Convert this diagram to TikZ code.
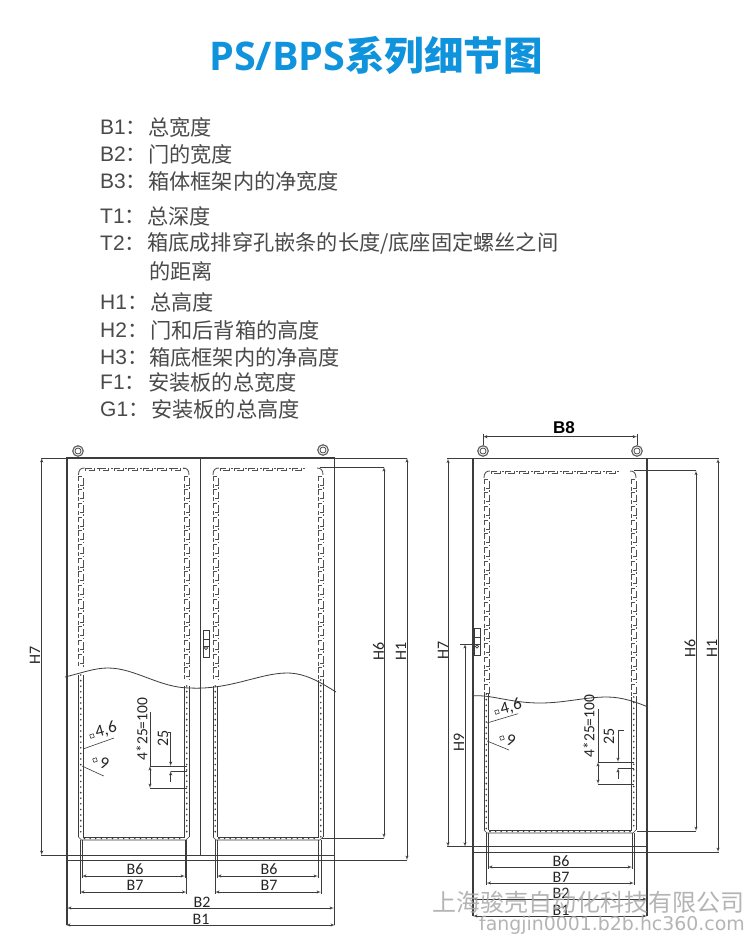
\documentclass[tikz,border=0pt]{standalone}
\usepackage{fontspec}
\usepackage{tikz}
\usetikzlibrary{arrows}
\usetikzlibrary{positioning}
\setmainfont{Carlito}
\newfontfamily\cjk{Noto Sans CJK SC}
\newfontfamily\arial{Liberation Sans}
\newfontfamily\titlefont{Open Sans}
\newfontfamily\wmfont{DejaVu Sans}
\definecolor{titleblue}{HTML}{0F93DC}
\definecolor{listgray}{HTML}{4A4A4A}
\definecolor{linegray}{HTML}{3C3C3C}
\definecolor{wmgray}{HTML}{A8A8A8}
\tikzset{outline/.style = {draw = linegray, line width = 1.3}}
\tikzset{thinline/.style = {draw = linegray, line width = 0.6}}
\tikzset{dimline/.style = {draw = linegray, line width = 0.5, <->, >=latex'}}
\tikzset{arrowline/.style = {draw = linegray, line width = 0.5, ->, >=latex'}}
\tikzset{hookmark/.style = {draw = linegray!90, line width = 0.85}}
\tikzset{dimlabel/.style = {inner sep = 0, text = black!85, font = \fontsize{16}{16}\selectfont}}
\tikzset{keylabel/.style = {anchor = west, inner sep = 0, yshift = -0.7pt, text = listgray, font = \fontsize{21}{21}\arial}}
\tikzset{listlabel/.style = {anchor = west, inner sep = 0, yshift = -0.7pt, text = listgray, font = \fontsize{21.2}{22}\cjk}}
\tikzset{eye/.style = {draw = linegray!80, line width = 1.2, circle, fill = white, minimum size = 10.5, inner sep = 0}}
\tikzset{eyehole/.style = {draw = linegray, line width = 0.7, circle, minimum size = 6, inner sep = 0}}

\newcommand{\hookcol}[3]{%
  \pgfmathsetmacro{\ystart}{#2}
  \pgfmathsetmacro{\ynext}{#2 + 13.7}
  \pgfmathsetmacro{\ystop}{#3}
  \foreach \y in {\ystart, \ynext, ..., \ystop} {
    \draw [hookmark] (#1 - 2.5, \y + 5) -- (#1 - 2.5, \y) -- (#1 + 1, \y);
    \draw [hookmark] (#1 + 2.5, \y + 2) -- (#1 + 2.5, \y + 9) -- (#1 - 1, \y + 9);
    \draw [hookmark] (#1 - 2.5, \y + 7.5) -- (#1 - 2.5, \y + 11.5);
    \draw [hookmark] (#1 + 2.5, \y + 11) -- (#1 + 2.5, \y + 12.5);
  }}
\newcommand{\hookrow}[3]{%
  \pgfmathsetmacro{\xstart}{#2}
  \pgfmathsetmacro{\xnext}{#2 + 14.4}
  \pgfmathsetmacro{\xstop}{#3}
  \foreach \x in {\xstart, \xnext, ..., \xstop} {
    \draw [hookmark] (\x, #1 + 2.5) -- (\x, #1) -- (\x + 6, #1);
    \draw [hookmark] (\x + 3, #1 + 2.5) -- (\x + 9, #1 + 2.5) -- (\x + 9, #1);
    \draw [hookmark] (\x + 11, #1) -- (\x + 13, #1);
  }}
\newcommand{\stripcol}[4]{%
  \draw [thinline] (#1, #3) -- (#1, #4);
  \draw [thinline] (#2, #3) -- (#2, #4);
  \pgfmathsetmacro{\ystart}{#3}
  \pgfmathsetmacro{\ynext}{#3 + 5.6}
  \pgfmathsetmacro{\ystop}{#4}
  \foreach \y in {\ystart, \ynext, ..., \ystop}
    \fill [linegray] ({(#1 + #2) / 2}, \y) circle [radius = 0.9];
  }
\newcommand{\cutpanel}[6]{%
  \hookrow{#3}{#1 + 7}{#2 - 17}
  \hookcol{#1 + 2.5}{#3 + 8}{#5 - 8}
  \hookcol{#2 - 2.5}{#3 + 8}{#6 - 8}
  \draw [hookmark] (#1, #3 + 7) .. controls (#1, #3 + 2) and (#1 + 2, #3) .. (#1 + 6, #3);
  \draw [hookmark] (#2 - 6, #3) .. controls (#2 - 2, #3) and (#2, #3 + 2) .. (#2, #3 + 7);
  \stripcol{#1}{#1 + 4.5}{#5}{#4}
  \stripcol{#2 - 4.5}{#2}{#6}{#4}
  \draw [thinline] (#1, #4) -- (#1 + 3, #4 + 3) -- (#2 - 3, #4 + 3) -- (#2, #4);
  \draw [thinline] (#1 + 4.5, #4) -- (#2 - 4.5, #4);
  \pgfmathsetmacro{\xstart}{#1 + 6}
  \pgfmathsetmacro{\xnext}{#1 + 11.6}
  \pgfmathsetmacro{\xstop}{#2 - 5}
  \foreach \x in {\xstart, \xnext, ..., \xstop}
    \fill [linegray] (\x, #4 + 1.5) circle [radius = 0.8];
  }
\newcommand{\latchbox}[2]{%
  \draw [thinline, line width = 0.9] (#1, #2) rectangle (#1 + 6, #2 + 27);
  \draw [thinline] (#1, #2 + 9) -- (#1 + 6, #2 + 9);
  \draw [thinline] (#1, #2 + 16) -- (#1 + 6, #2 + 16);
  \draw [thinline] (#1 + 3, #2 + 18) circle [radius = 1.6];
  }

\begin{document}
\begin{tikzpicture}[x = 1pt, y = -1pt]
  \useasboundingbox [fill = white] (0, 0) rectangle (750, 936);

  \node [inner sep = 0, text = titleblue, font = \fontsize{39.5}{40}\titlefont\bfseries] (title)
    at (376, 55.5) {PS/BPS{\cjk\bfseries 系列细节图}};

  \node [keylabel] (keybone) at (100, 127) {B1{\cjk ：}};
  \node [listlabel] (textbone) at (148, 127) {总宽度};
  \node [keylabel] (keybtwo) at (100, 154) {B2{\cjk ：}};
  \node [listlabel] (textbtwo) at (148, 154) {门的宽度};
  \node [keylabel] (keybthree) at (100, 181) {B3{\cjk ：}};
  \node [listlabel] (textbthree) at (148, 181) {箱体框架内的净宽度};
  \node [keylabel] (keytone) at (100, 216) {T1{\cjk ：}};
  \node [listlabel] (texttone) at (147, 216) {总深度};
  \node [keylabel] (keyttwo) at (100, 243) {T2{\cjk ：}};
  \node [listlabel] (textttwo) at (147, 243) {箱底成排穿孔嵌条的长度/底座固定螺丝之间};
  \node [listlabel] (textttwob) at (149, 271) {的距离};
  \node [keylabel] (keyhone) at (100, 302) {H1{\cjk ：}};
  \node [listlabel] (texthone) at (150, 302) {总高度};
  \node [keylabel] (keyhtwo) at (100, 330) {H2{\cjk ：}};
  \node [listlabel] (texthtwo) at (150, 330) {门和后背箱的高度};
  \node [keylabel] (keyhthree) at (100, 357) {H3{\cjk ：}};
  \node [listlabel] (texththree) at (149, 357) {箱底框架内的净高度};
  \node [keylabel] (keyfone) at (100, 382) {F1{\cjk ：}};
  \node [listlabel] (textfone) at (148, 382) {安装板的总宽度};
  \node [keylabel] (keygone) at (100, 409) {G1{\cjk ：}};
  \node [listlabel] (textgone) at (151, 409) {安装板的总高度};

  % left cabinet
  \draw [outline] (67, 925) -- (67, 458) -- (334.5, 458) -- (334.5, 925);
  \draw [outline, line width = 0.9] (200.7, 458) -- (200.7, 855);
  \node [eye] (eyea) at (78, 451) {};
  \node [eye] (eyeb) at (323, 450) {};
  \node [eyehole] (holea) at (eyea) {};
  \node [eyehole] (holeb) at (eyeb) {};
  \cutpanel{78.5}{189}{468}{837}{675}{686}
  \cutpanel{213}{323}{468}{837}{686}{680}
  \latchbox{203}{630}
  \draw [thinline, line width = 0.8] (65, 677) .. controls (85, 672) and (95, 668) .. (108, 668)
    .. controls (135, 668) and (160, 688) .. (190, 688)
    .. controls (230, 690) and (260, 673) .. (287, 673)
    .. controls (305, 673) and (320, 682) .. (336, 692);

  \draw [thinline] (41, 458) -- (67, 458);
  \draw [dimline] (41.7, 458) -- (41.7, 855);
  \draw [thinline] (41, 855) -- (334, 855);
  \draw [thinline] (67, 860) -- (407, 860);
  \draw [thinline] (335, 458) -- (407, 458);
  \draw [dimline] (407, 458) -- (407, 860);
  \draw [thinline] (320, 467) -- (384, 467);
  \draw [thinline] (322, 838) -- (384, 838);
  \draw [dimline] (384, 467) -- (384, 838);
  \node [dimlabel, rotate = 90] (lefthseven) at (35, 655) {H7};
  \node [dimlabel, rotate = 90] (lefthsix) at (378.5, 651) {H6};
  \node [dimlabel, rotate = 90] (lefthone) at (401, 651) {H1};

  \draw [thinline] (82, 840) -- (82, 878);
  \draw [thinline] (185, 840) -- (185, 878);
  \draw [thinline] (80, 840) -- (80, 894);
  \draw [thinline] (186.5, 840) -- (186.5, 894);
  \draw [dimline] (82, 876) -- (185, 876);
  \draw [dimline] (80, 892) -- (186.5, 892);
  \node [dimlabel] (leftbsixa) at (135, 869) {B6};
  \node [dimlabel] (leftbsevena) at (135, 885) {B7};
  \draw [thinline] (217, 840) -- (217, 878);
  \draw [thinline] (318, 840) -- (318, 878);
  \draw [thinline] (215, 840) -- (215, 894);
  \draw [thinline] (321, 840) -- (321, 894);
  \draw [dimline] (217, 876) -- (318, 876);
  \draw [dimline] (215, 892) -- (321, 892);
  \node [dimlabel] (leftbsixb) at (269, 869) {B6};
  \node [dimlabel] (leftbsevenb) at (269, 885) {B7};
  \draw [dimline] (67, 908) -- (334, 908);
  \draw [dimline] (66, 925) -- (335, 925);
  \node [dimlabel] (leftbtwo) at (202, 902) {B2};
  \node [dimlabel] (leftbone) at (201, 919) {B1};

  \draw [thinline] (83, 749) -- (114, 738);
  \draw [thinline] (82, 766) -- (103.7, 776);
  \draw [thinline, rotate around = {20:(92, 736)}] (90.2, 734.2) rectangle (93.8, 737.8);
  \draw [thinline, rotate around = {20:(95, 760)}] (93.2, 758.2) rectangle (96.8, 761.8);
  \node [dimlabel, rotate = 15, font = \fontsize{17}{17}\selectfont] (leftholea) at (106, 730) {4,6};
  \node [dimlabel, rotate = -15, font = \fontsize{17}{17}\selectfont] (leftholeb) at (104.5, 763) {9};
  \draw [thinline] (150, 712) -- (150, 766);
  \draw [thinline, line width = 0.8] (150, 766) -- (187, 766);
  \draw [thinline] (150, 788) -- (187, 788);
  \draw [dimline] (150, 766) -- (150, 788);
  \draw [thinline] (168, 732) -- (170.7, 732);
  \draw [arrowline] (170.7, 732) -- (170.7, 766);
  \draw [thinline] (170.7, 771) -- (187, 771);
  \draw [arrowline] (170.7, 782) -- (170.7, 771);
  \node [dimlabel, rotate = 90, font = \fontsize{15.5}{16}\selectfont] (leftpitch) at (142, 729) {4*25=100};
  \node [dimlabel, rotate = 90] (leftstep) at (163, 738) {25};

  % right cabinet
  \draw [outline] (473, 916) -- (473, 458.7) -- (647, 458.7) -- (647, 916);
  \node [eye] (eyec) at (483, 451) {};
  \node [eye] (eyed) at (637, 451) {};
  \node [eyehole] (holec) at (eyec) {};
  \node [eyehole] (holed) at (eyed) {};
  \draw [thinline] (eyec) -- (483, 434);
  \draw [thinline] (eyed) -- (637, 434);
  \draw [dimline] (483, 436.7) -- (637, 436.7);
  \node [dimlabel, text = black, font = \fontsize{17}{17}\arial\bfseries] (rightbeight) at (564, 428) {B8};
  \cutpanel{484}{636}{471}{830}{694}{697}
  \latchbox{474}{628.5}
  \draw [thinline, line width = 0.8] (472, 696) .. controls (490, 694) and (510, 703) .. (540, 703)
    .. controls (565, 703) and (585, 697) .. (607, 697)
    .. controls (622, 697) and (636, 702) .. (648, 707);

  \draw [thinline] (447, 458.7) -- (473, 458.7);
  \draw [dimline] (448, 458.7) -- (448, 846.7);
  \draw [thinline] (447, 846.7) -- (647, 846.7);
  \draw [thinline] (473, 852) -- (718.5, 852);
  \draw [thinline] (647, 458.7) -- (718.5, 458.7);
  \draw [dimline] (718, 458.7) -- (718, 852);
  \draw [thinline] (634, 470.7) -- (696, 470.7);
  \draw [thinline] (637, 831) -- (696, 831);
  \draw [dimline] (696, 470.7) -- (696, 831);
  \draw [thinline] (460, 644) -- (476, 644);
  \draw [dimline] (465, 644) -- (465, 846.7);
  \node [dimlabel, rotate = 90] (righthseven) at (443, 650) {H7};
  \node [dimlabel, rotate = 90] (righthnine) at (459, 742) {H9};
  \node [dimlabel, rotate = 90] (righthsix) at (690, 648) {H6};
  \node [dimlabel, rotate = 90] (righthone) at (712, 648) {H1};

  \draw [thinline] (488, 833) -- (488, 869);
  \draw [thinline] (632, 833) -- (632, 869);
  \draw [thinline] (486.5, 833) -- (486.5, 885);
  \draw [thinline] (634, 833) -- (634, 885);
  \draw [dimline] (488, 867) -- (632, 867);
  \draw [dimline] (486.5, 883) -- (634, 883);
  \draw [dimline] (473, 899) -- (647, 899);
  \draw [dimline] (473, 916) -- (647, 916);
  \node [dimlabel] (rightbsix) at (561, 861) {B6};
  \node [dimlabel] (rightbseven) at (561, 877) {B7};
  \node [dimlabel] (rightbtwo) at (561, 893) {B2};
  \node [dimlabel] (rightbone) at (561, 910) {B1};

  \draw [thinline] (487, 723) -- (518, 713.7);
  \draw [thinline] (487, 741) -- (509, 750);
  \draw [thinline, rotate around = {20:(497, 712)}] (495.2, 710.2) rectangle (498.8, 713.8);
  \draw [thinline, rotate around = {20:(502, 738)}] (500.2, 736.2) rectangle (503.8, 739.8);
  \node [dimlabel, rotate = 15, font = \fontsize{17}{17}\selectfont] (rightholea) at (511, 707) {4,6};
  \node [dimlabel, rotate = -15, font = \fontsize{17}{17}\selectfont] (rightholeb) at (511, 740) {9};
  \draw [thinline] (598, 709) -- (598, 762);
  \draw [thinline, line width = 0.8] (598, 762) -- (634, 762);
  \draw [thinline] (598, 784) -- (634, 784);
  \draw [dimline] (598, 762) -- (598, 784);
  \draw [thinline] (618, 730) -- (624, 730);
  \draw [arrowline] (618, 730) -- (618, 762);
  \draw [thinline] (618, 768) -- (634, 768);
  \draw [arrowline] (618, 779) -- (618, 768);
  \node [dimlabel, rotate = 90, font = \fontsize{15.5}{16}\selectfont] (rightpitch) at (589, 726) {4*25=100};
  \node [dimlabel, rotate = 90] (rightstep) at (609, 736) {25};

  % watermark
  \node [anchor = east, inner sep = 0, text = wmgray, opacity = 0.85, font = \fontsize{24}{24}\cjk] (wmname)
    at (745, 902) {上海骏壳自动化科技有限公司};
  \node [anchor = east, inner sep = 0, text = wmgray, opacity = 0.85, font = \fontsize{18.9}{19}\wmfont] (wmurl)
    at (745, 925) {fangjin0001.b2b.hc360.com};
\end{tikzpicture}
\end{document}
